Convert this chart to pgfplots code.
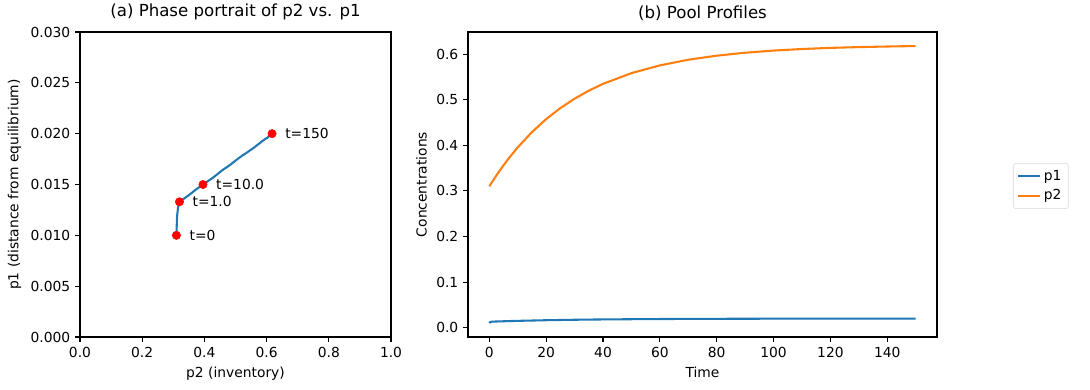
\documentclass[border=0pt]{standalone}
\usepackage{fontspec}
\setmainfont{DejaVu Sans}
\usepackage{pgfplots}
\pgfplotsset{compat=1.18}
\definecolor{c0}{HTML}{1F77B4}
\definecolor{c1}{HTML}{FF7F0E}
\pgfplotsset{
  mpl/.style={
    scale only axis,
    axis line style={line width=0.8pt},
    tick align=outside,
    major tick length=3.5pt,
    every tick/.style={black, line width=0.8pt},
    tick label style={font=\fontsize{10}{12}\selectfont},
    label style={font=\fontsize{10}{12}\selectfont},
    title style={font=\fontsize{12}{14}\selectfont, yshift=-1pt},
    /pgf/number format/assume math mode=true,
    xtick pos=bottom, ytick pos=left,
  }
}
\begin{document}
\begin{tikzpicture}
\useasboundingbox (0,0) rectangle (10.9in,3.9in);
% Left: phase portrait
\begin{axis}[mpl,
  at={(0.80in,0.53in)}, anchor=south west,
  width=3.11in, height=3.05in,
  xmin=0, xmax=1, ymin=0, ymax=0.03,
  xtick={0,0.2,0.4,0.6,0.8,1.0},
  ytick={0,0.005,0.01,0.015,0.02,0.025,0.03},
  xticklabel style={/pgf/number format/.cd, fixed, fixed zerofill, precision=1},
  yticklabel style={/pgf/number format/.cd, fixed, fixed zerofill, precision=3},
  scaled y ticks=false,
  title={(a) Phase portrait of p2 vs. p1},
  xlabel={p2 (inventory)},
  ylabel={p1 (distance from equilibrium)},
]
\addplot[c0, line width=1.5pt, line join=round] coordinates {
(0.3100,0.0100) (0.3120,0.0118) (0.3150,0.0127) (0.3198,0.0133)
(0.3294,0.0135) (0.3386,0.0137) (0.3562,0.0141) (0.3727,0.0145)
(0.3955,0.0150) (0.4289,0.0157) (0.4574,0.0164) (0.4816,0.0169)
(0.5022,0.0174) (0.5197,0.0178) (0.5347,0.0181) (0.5582,0.0186)
(0.5752,0.0190) (0.5876,0.0193) (0.5965,0.0195) (0.6030,0.0196)
(0.6077,0.0198) (0.6111,0.0198) (0.6136,0.0199) (0.6153,0.0199)
(0.6166,0.0200) (0.6176,0.0200)
};
\addplot[only marks, mark=*, mark size=3pt, red, mark options={draw=red, fill=red}] coordinates {
(0.3100,0.0100) (0.3198,0.0133) (0.3955,0.0150) (0.6176,0.0200)
};
\node[anchor=west, font=\fontsize{10}{12}\selectfont, xshift=6pt] at (axis cs:0.3100,0.0100) {t=0};
\node[anchor=west, font=\fontsize{10}{12}\selectfont, xshift=6pt] at (axis cs:0.3198,0.0133) {t=1.0};
\node[anchor=west, font=\fontsize{10}{12}\selectfont, xshift=6pt] at (axis cs:0.3955,0.0150) {t=10.0};
\node[anchor=west, font=\fontsize{10}{12}\selectfont, xshift=6pt] at (axis cs:0.6176,0.0200) {t=150};
\end{axis}
% Right: pool profiles
\begin{axis}[mpl,
  at={(4.68in,0.53in)}, anchor=south west,
  width=4.69in, height=3.05in,
  xmin=-7.5, xmax=157.5, ymin=-0.0204, ymax=0.6484,
  xtick={0,20,40,60,80,100,120,140},
  ytick={0,0.1,0.2,0.3,0.4,0.5,0.6},
  yticklabel style={/pgf/number format/.cd, fixed, fixed zerofill, precision=1},
  title={(b) Pool Profiles},
  xlabel={Time},
  ylabel={Concentrations},
  legend style={at={(1.162,0.57)}, anchor=north west, draw=black!15, rounded corners=2pt,
    font=\fontsize{10}{12}\selectfont, inner sep=3pt, row sep=1pt},
  legend cell align=left,
  legend image code/.code={\draw[#1, line width=1.5pt] (0cm,0cm) -- (0.55cm,0cm);},
]
\addplot[c0, line width=1.5pt, line join=round] coordinates {
(0,0.0100) (0.2,0.0118) (0.5,0.0127) (1,0.0133) (2,0.0135) (3,0.0137)
(5,0.0141) (7,0.0145) (10,0.0150) (15,0.0157) (20,0.0164) (25,0.0169)
(30,0.0174) (35,0.0178) (40,0.0181) (50,0.0186) (60,0.0190) (70,0.0193)
(80,0.0195) (90,0.0196) (100,0.0198) (110,0.0198) (120,0.0199)
(130,0.0199) (140,0.0200) (150,0.0200)
};
\addlegendentry{p1}
\addplot[c1, line width=1.5pt, line join=round] coordinates {
(0,0.3100) (1,0.3198) (2,0.3294) (3,0.3386) (5,0.3562) (7,0.3727)
(10,0.3955) (15,0.4289) (20,0.4574) (25,0.4816) (30,0.5022) (35,0.5197)
(40,0.5347) (50,0.5582) (60,0.5752) (70,0.5876) (80,0.5965) (90,0.6030)
(100,0.6077) (110,0.6111) (120,0.6136) (130,0.6153) (140,0.6166) (150,0.6176)
};
\addlegendentry{p2}
\end{axis}
\end{tikzpicture}
\end{document}
